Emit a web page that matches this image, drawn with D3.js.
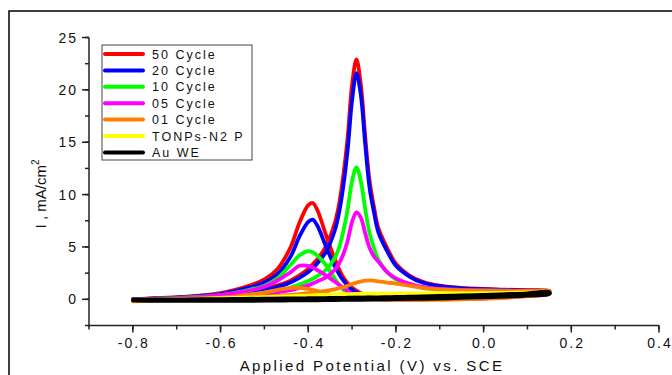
<!DOCTYPE html>
<html>
<head>
<meta charset="utf-8">
<script src="https://cdn.jsdelivr.net/npm/d3@7"></script>
<style>
  body { margin: 0; background: #fff; }
  svg { display: block; font-family: Arial, "Liberation Sans", sans-serif; }
</style>
</head>
<body>
<div id="chart"></div>
<script>
// potentials for forward scan (V) and reverse scan
const fwdV = [-0.8, -0.75, -0.7, -0.65, -0.6, -0.55, -0.5, -0.45, -0.42, -0.4, -0.38, -0.36, -0.34, -0.33, -0.32, -0.31,
  -0.30, -0.29, -0.28, -0.27, -0.26, -0.25, -0.24, -0.22, -0.2, -0.17, -0.14, -0.1, -0.05, 0, 0.05, 0.1, 0.15];
const revV = [0.15, 0.1, 0.05, 0, -0.05, -0.1, -0.15, -0.2, -0.25, -0.28, -0.3, -0.32, -0.34, -0.36, -0.38, -0.39,
  -0.40, -0.42, -0.44, -0.47, -0.5, -0.55, -0.6, -0.65, -0.7, -0.75, -0.8];

// current density mA/cm2
const cyc50Fwd = [0, 0.08, 0.15, 0.25, 0.4, 0.6, 1.0, 1.6, 2.3, 2.9, 3.8, 5.0, 7.2, 9.0, 11.8, 15.5,
  20.5, 22.9, 20.5, 15.5, 11.3, 8.8, 6.8, 4.9, 3.4, 2.3, 1.7, 1.3, 1.1, 1.0, 0.92, 0.88, 0.8];
const cyc50Rev = [0.7, 0.4, 0.25, 0.15, 0.08, 0.03, 0, 0, 0.1, 0.6, 1.1, 2.1, 3.9, 6.2, 8.6, 9.2,
  9.0, 7.3, 5.0, 2.9, 1.9, 1.1, 0.6, 0.35, 0.2, 0.1, 0];
const cyc20Fwd = [0, 0.07, 0.13, 0.22, 0.35, 0.55, 0.9, 1.45, 2.05, 2.6, 3.4, 4.5, 6.5, 8.2, 10.8, 14.3,
  19.0, 21.6, 19.5, 14.8, 10.6, 8.3, 6.4, 4.6, 3.2, 2.2, 1.6, 1.25, 1.05, 0.95, 0.88, 0.82, 0.75];
const cyc20Rev = [0.65, 0.38, 0.22, 0.13, 0.07, 0.03, 0, 0, 0.1, 0.5, 0.9, 1.8, 3.2, 5.1, 7.1, 7.6,
  7.4, 6.0, 4.1, 2.4, 1.6, 0.95, 0.5, 0.3, 0.15, 0.08, 0];
const cyc10Fwd = [0, 0.05, 0.1, 0.17, 0.27, 0.4, 0.65, 1.0, 1.4, 1.75, 2.2, 2.8, 3.9, 4.9, 6.5, 8.6,
  11.3, 12.6, 11.3, 8.6, 6.3, 4.9, 3.8, 2.6, 1.9, 1.4, 1.1, 0.95, 0.9, 0.85, 0.82, 0.8, 0.72];
const cyc10Rev = [0.6, 0.35, 0.2, 0.12, 0.06, 0.02, 0, 0, 0.05, 0.2, 0.4, 0.9, 2.0, 3.3, 4.2, 4.5,
  4.6, 4.2, 3.3, 2.0, 1.3, 0.75, 0.4, 0.25, 0.12, 0.05, 0];
const cyc05Fwd = [0, 0.04, 0.08, 0.13, 0.2, 0.3, 0.5, 0.8, 1.1, 1.35, 1.7, 2.1, 2.8, 3.4, 4.3, 5.6,
  7.4, 8.3, 7.8, 6.3, 4.9, 4.1, 3.6, 2.6, 2.0, 1.5, 1.2, 1.0, 0.9, 0.85, 0.82, 0.8, 0.7];
const cyc05Rev = [0.55, 0.3, 0.18, 0.1, 0.05, 0.02, 0, 0, 0.05, 0.2, 0.5, 1.1, 1.7, 2.3, 2.8, 3.05,
  3.2, 3.2, 2.6, 1.8, 1.2, 0.7, 0.4, 0.2, 0.1, 0.05, 0];
const cyc01Fwd = [-0.1, -0.05, 0, 0.05, 0.1, 0.15, 0.25, 0.4, 0.5, 0.6, 0.7, 0.8, 0.95, 1.05, 1.15, 1.3,
  1.45, 1.6, 1.7, 1.78, 1.8, 1.78, 1.72, 1.6, 1.5, 1.3, 1.1, 0.95, 0.85, 0.8, 0.78, 0.78, 0.75];
const cyc01Rev = [0.5, 0.3, 0.15, 0.05, 0, -0.05, -0.05, -0.05, 0, 0.05, 0.1, 0.2, 0.35, 0.55, 0.8, 0.9,
  1.0, 1.1, 1.1, 0.9, 0.65, 0.35, 0.15, 0.05, -0.05, -0.1, -0.2];
const tonpsFwd = [-0.05, 0, 0.03, 0.06, 0.1, 0.15, 0.2, 0.28, 0.32, 0.35, 0.4, 0.42, 0.45, 0.47, 0.48, 0.5,
  0.5, 0.52, 0.53, 0.53, 0.54, 0.55, 0.55, 0.55, 0.56, 0.56, 0.57, 0.58, 0.58, 0.6, 0.62, 0.65, 0.7];
const tonpsRev = [0.6, 0.4, 0.3, 0.2, 0.15, 0.1, 0.08, 0.05, 0.03, 0.02, 0.02, 0.02, 0.02, 0, 0, 0,
  0, 0, 0, 0, 0, -0.02, -0.03, -0.05, -0.05, -0.05, -0.05];
const auFwd = [0, 0, 0, 0.02, 0.03, 0.05, 0.07, 0.09, 0.1, 0.11, 0.12, 0.13, 0.14, 0.15, 0.15, 0.16,
  0.16, 0.17, 0.17, 0.18, 0.18, 0.19, 0.2, 0.21, 0.23, 0.26, 0.29, 0.33, 0.38, 0.43, 0.5, 0.58, 0.7];
const auRev = [0.5, 0.35, 0.25, 0.18, 0.12, 0.07, 0.03, 0, -0.03, -0.05, -0.06, -0.07, -0.08, -0.09, -0.1, -0.1,
  -0.1, -0.11, -0.12, -0.13, -0.14, -0.15, -0.15, -0.15, -0.15, -0.15, -0.1];

const seriesNames = ['50 Cycle', '20 Cycle', '10 Cycle', '05 Cycle', '01 Cycle', 'TONPs-N2 P', 'Au WE'];
const seriesColors = ['#ff0000', '#0000ff', '#00ff00', '#ff00ff', '#ff8000', '#ffff00', '#000000'];
const seriesFwd = [cyc50Fwd, cyc20Fwd, cyc10Fwd, cyc05Fwd, cyc01Fwd, tonpsFwd, auFwd];
const seriesRev = [cyc50Rev, cyc20Rev, cyc10Rev, cyc05Rev, cyc01Rev, tonpsRev, auRev];

const xTicks = [-0.8, -0.6, -0.4, -0.2, 0.0, 0.2, 0.4];
const yTicks = [0, 5, 10, 15, 20, 25];

const width = 672, height = 375;

const svg = d3.select('#chart').append('svg')
  .attr('width', width)
  .attr('height', height);

// outer frame
svg.append('rect')
  .attr('x', 9).attr('y', 11)
  .attr('width', 680).attr('height', 400)
  .attr('fill', 'none')
  .attr('stroke', '#000')
  .attr('stroke-width', 1.5);

const x = d3.scaleLinear().domain([-0.9, 0.4]).range([89, 659]);
const y = d3.scaleLinear().domain([-2.5, 25]).range([325.5, 37.5]);

// curves
const line = d3.line()
  .x(d => x(d[0]))
  .y(d => y(d[1]))
  .curve(d3.curveCatmullRom.alpha(0.5));

const plot = svg.append('g');
seriesNames.forEach((name, i) => {
  const pts = fwdV.map((v, j) => [v, seriesFwd[i][j]])
    .concat(revV.map((v, j) => [v, seriesRev[i][j]]));
  plot.append('path')
    .datum(pts)
    .attr('fill', 'none')
    .attr('stroke', seriesColors[i])
    .attr('stroke-width', i === 6 ? 3.6 : 3.8)
    .attr('stroke-linejoin', 'round')
    .attr('stroke-linecap', 'round')
    .attr('d', line);
});

// axes
const axisColor = '#222';
const xAxis = svg.append('g').attr('transform', 'translate(0,' + 325.5 + ')');
xAxis.append('line').attr('x1', 88).attr('x2', 659).attr('stroke', axisColor).attr('stroke-width', 1.5);
xAxis.selectAll('line.minor')
  .data(d3.range(-0.9, 0.41, 0.1))
  .enter().append('line')
  .attr('x1', d => x(d)).attr('x2', d => x(d))
  .attr('y1', 0).attr('y2', 4)
  .attr('stroke', axisColor).attr('stroke-width', 1.5);
xAxis.selectAll('line.major')
  .data(xTicks)
  .enter().append('line')
  .attr('x1', d => x(d)).attr('x2', d => x(d))
  .attr('y1', 0).attr('y2', 7)
  .attr('stroke', axisColor).attr('stroke-width', 1.5);
xAxis.selectAll('text')
  .data(xTicks)
  .enter().append('text')
  .attr('x', d => x(d) + 1)
  .attr('y', 22)
  .attr('text-anchor', 'middle')
  .attr('font-size', 14)
  .attr('letter-spacing', 2)
  .attr('fill', '#111')
  .text(d => d3.format('.1f')(d).replace('−', '-'));

const yAxis = svg.append('g').attr('transform', 'translate(' + 89 + ',0)');
yAxis.append('line').attr('y1', y(25)).attr('y2', 326.5).attr('stroke', axisColor).attr('stroke-width', 1.5);
yAxis.selectAll('line.minor')
  .data(d3.range(-2.5, 25.1, 2.5))
  .enter().append('line')
  .attr('y1', d => y(d)).attr('y2', d => y(d))
  .attr('x1', 0).attr('x2', -4)
  .attr('stroke', axisColor).attr('stroke-width', 1.5);
yAxis.selectAll('line.major')
  .data(yTicks)
  .enter().append('line')
  .attr('y1', d => y(d)).attr('y2', d => y(d))
  .attr('x1', 0).attr('x2', -7)
  .attr('stroke', axisColor).attr('stroke-width', 1.5);
yAxis.selectAll('text')
  .data(yTicks)
  .enter().append('text')
  .attr('x', -11)
  .attr('y', d => y(d) + 5)
  .attr('text-anchor', 'end')
  .attr('font-size', 14)
  .attr('letter-spacing', 2)
  .attr('fill', '#111')
  .text(d => d);

// axis titles
svg.append('text')
  .attr('x', 372)
  .attr('y', 371)
  .attr('text-anchor', 'middle')
  .attr('font-size', 15)
  .attr('letter-spacing', 2.4)
  .attr('fill', '#111')
  .text('Applied Potential (V) vs. SCE');

const yTitle = svg.append('text')
  .attr('transform', 'translate(46,194) rotate(-90)')
  .attr('text-anchor', 'middle')
  .attr('font-size', 15)
  .attr('fill', '#111');
yTitle.append('tspan').text('I , mA/cm');
yTitle.append('tspan').attr('font-size', 10).attr('dy', -7).text('2');

// legend
const legend = svg.append('g');
legend.append('rect')
  .attr('x', 102).attr('y', 45)
  .attr('width', 150).attr('height', 115)
  .attr('fill', '#fff')
  .attr('stroke', '#444')
  .attr('stroke-width', 1);
seriesNames.forEach((name, i) => {
  const cy = 54 + i * 16.4;
  legend.append('line')
    .attr('x1', 105).attr('x2', 143)
    .attr('y1', cy).attr('y2', cy)
    .attr('stroke', seriesColors[i])
    .attr('stroke-width', 4)
    .attr('stroke-linecap', 'round');
  legend.append('text')
    .attr('x', 152)
    .attr('y', cy + 4.5)
    .attr('font-size', 12.5)
    .attr('letter-spacing', 2)
    .attr('fill', '#111')
    .text(name);
});
</script>
</body>
</html>
